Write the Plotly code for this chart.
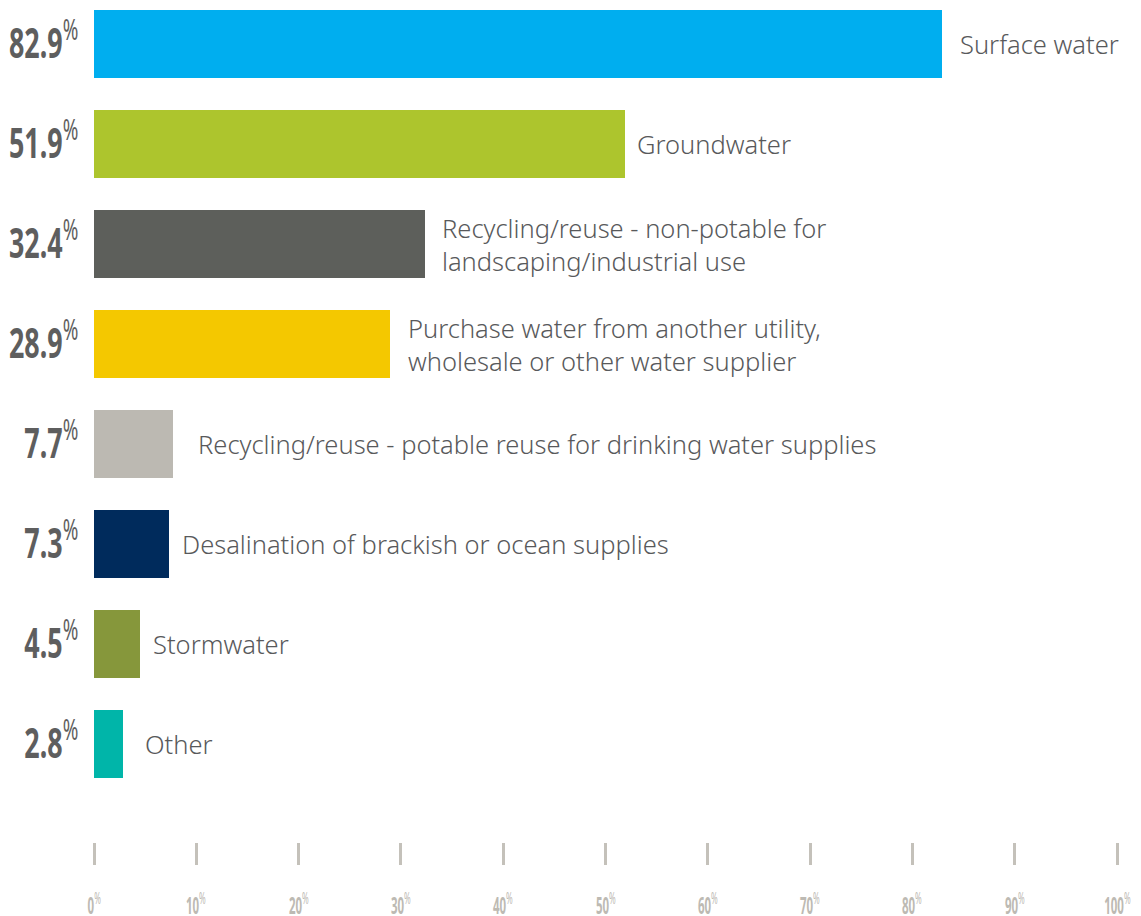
import plotly.graph_objects as go

# Share of respondents using each water source (%)
sources = [
    "Surface water",
    "Groundwater",
    "Recycling/reuse - non-potable for<br>landscaping/industrial use",
    "Purchase water from another utility,<br>wholesale or other water supplier",
    "Recycling/reuse - potable reuse for drinking water supplies",
    "Desalination of brackish or ocean supplies",
    "Stormwater",
    "Other",
]
shares = [82.9, 51.9, 32.4, 28.9, 7.7, 7.3, 4.5, 2.8]
bar_colors = ["#00AEEF", "#ADC52D", "#5D5F5B", "#F4C800",
              "#BCB9B2", "#002B5C", "#86973B", "#00B5A9"]
x_ticks = [0, 10, 20, 30, 40, 50, 60, 70, 80, 90, 100]

# horizontal gap (px) between each bar end and its caption
caption_gap = [16, 10, 15, 16, 23, 11, 11, 20]

TEXT = "Noto Sans, Open Sans, sans-serif"
GREY_AXIS = "#BDBAB3"

positions = list(range(len(sources)))

fig = go.Figure()
fig.add_trace(go.Bar(
    x=shares,
    y=positions,
    orientation="h",
    width=0.68,
    marker=dict(color=bar_colors, line=dict(width=0)),
    hoverinfo="skip",
))

annotations = []
for pos, label, val, gap in zip(positions, sources, shares, caption_gap):
    # value at the left of the bar
    annotations.append(dict(
        x=0, y=pos, xref="x", yref="y",
        text=f"<b>{val:.1f}</b><sup>%</sup>",
        showarrow=False, xanchor="right", xshift=-14, yshift=5,
        font=dict(family=TEXT, size=42, color="#5E5E5E"),
    ))
    # caption to the right of the bar
    annotations.append(dict(
        x=val, y=pos, xref="x", yref="y",
        text=label, align="left",
        showarrow=False, xanchor="left", xshift=gap,
        font=dict(family=TEXT, size=25.5, color="#58595B", weight=300),
    ))

# percentage labels under the tick marks
for t in x_ticks:
    annotations.append(dict(
        x=t, y=0, xref="x", yref="paper",
        text=f"<b>{t}</b><sup>%</sup>",
        showarrow=False, xanchor="center", yanchor="middle", yshift=-62,
        font=dict(family=TEXT, size=23, color=GREY_AXIS),
    ))

fig.update_layout(
    width=1141, height=916,
    margin=dict(l=94, r=24, t=0, b=74),
    paper_bgcolor="white", plot_bgcolor="white",
    showlegend=False,
    bargap=0,
    annotations=annotations,
    xaxis=dict(
        range=[0, 100],
        tickvals=x_ticks,
        showticklabels=False,
        ticks="outside", ticklen=22, tickwidth=3, tickcolor="#C4C1BA",
        showgrid=False, zeroline=False, showline=False, automargin=False,
    ),
    yaxis=dict(
        range=[7.98, -0.44],
        showticklabels=False, ticks="",
        showgrid=False, zeroline=False, showline=False, automargin=False,
    ),
)

# Narrow the numeric labels horizontally (condensed look)
squeeze_js = """
var gd = document.getElementById('{plot_id}');
function squeeze() {
  gd.querySelectorAll('g.annotation text.annotation-text').forEach(function (t) {
    var s = t.textContent;
    if (s.indexOf('%') < 0) { return; }
    t.style.transformBox = 'fill-box';
    if (s.indexOf('.') >= 0) {
      t.style.transformOrigin = 'right center';
      t.style.transform = 'scaleX(0.64)';
    } else {
      t.style.transformOrigin = 'center center';
      t.style.transform = 'scaleX(0.5)';
    }
  });
}
squeeze();
gd.on('plotly_afterplot', squeeze);
"""

fig.write_html("out.html", post_script=squeeze_js)
